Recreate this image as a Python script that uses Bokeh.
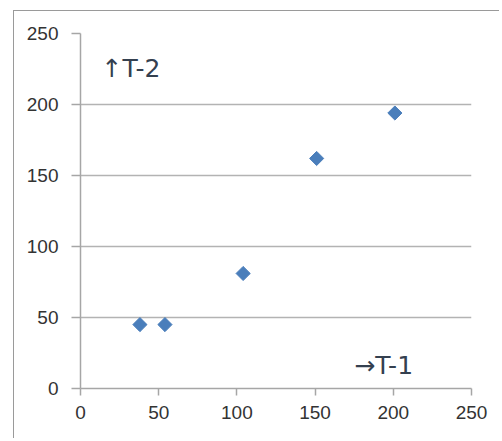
import numpy as np
from bokeh.plotting import figure
from bokeh.models import FixedTicker, Label, ColumnDataSource, Range1d
from bokeh.embed import file_html
from bokeh.resources import INLINE

# data
t1 = [38, 54, 104, 151, 201]
t2 = [45, 45, 81, 162, 194]
ticks = [0, 50, 100, 150, 200, 250]
label_y_text = "↑T-2"
label_x_text = "→T-1"
label_y_pos = (13.5, 215)
label_x_pos = (175, 6)

src = ColumnDataSource(dict(x=t1, y=t2))

p = figure(width=486, height=428, output_backend="svg", toolbar_location=None,
           x_range=Range1d(0, 250), y_range=Range1d(0, 250),
           min_border_left=66, min_border_right=29, min_border_top=22, min_border_bottom=51)
p.margin = (11, 0, 0, 14)
# outer chart-area border: only its left and top edges fall inside the picture
p.styles = {"box-shadow": "-1px -1px 0 0 #9a9a9a"}
p.outline_line_color = None
p.background_fill_color = "white"
p.border_fill_color = "white"

axis_col = "#a6a6a6"
for ax in (p.xaxis[0], p.yaxis[0]):
    ax.ticker = FixedTicker(ticks=ticks)
    ax.axis_line_color = axis_col
    ax.axis_line_width = 1.5
    ax.major_tick_line_color = axis_col
    ax.major_tick_line_width = 1.5
    ax.minor_tick_line_color = None
    ax.major_tick_in = 0
    ax.major_label_text_font = "Liberation Sans"
    ax.major_label_text_font_size = "19px"
    ax.major_label_text_color = "#333333"
p.xaxis.major_tick_out = 7
p.yaxis.major_tick_out = 9
p.xaxis.major_label_standoff = 10
p.yaxis.major_label_standoff = 13

p.xgrid.grid_line_color = None
p.ygrid.grid_line_color = "#b3b3b3"
p.ygrid.grid_line_width = 1.5
p.ygrid.ticker = FixedTicker(ticks=ticks)

p.scatter("x", "y", source=src, marker="square", angle=np.pi / 4, size=10,
          fill_color="#4a7ebb", line_color="#4a7ebb", line_width=1)

for txt, pos in ((label_y_text, label_y_pos), (label_x_text, label_x_pos)):
    p.add_layout(Label(x=pos[0], y=pos[1], text=txt, text_font="DejaVu Sans",
                       text_font_size="25px", text_color="#34404f"))

open("out.html", "w").write(file_html(p, INLINE))
